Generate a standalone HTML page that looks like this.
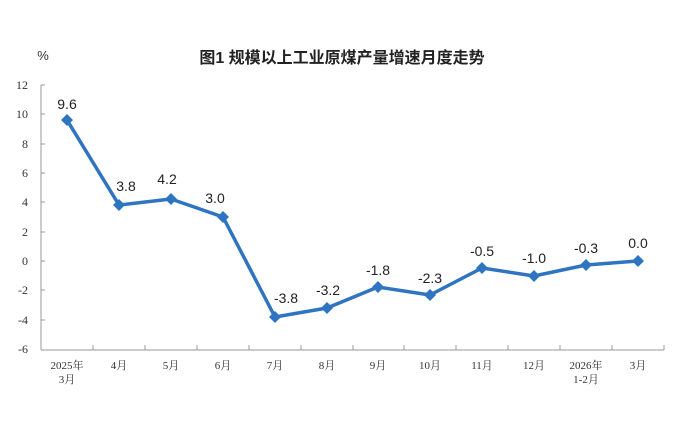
<!DOCTYPE html>
<html><head><meta charset="utf-8"><style>
body{margin:0;background:#fff;}
svg text{font-family:"Liberation Serif","Noto Serif CJK SC",serif;}
svg text.s{font-family:"Liberation Sans","Noto Sans CJK SC",sans-serif;}
</style></head><body>
<svg width="684" height="440" viewBox="0 0 684 440" xmlns="http://www.w3.org/2000/svg">
<rect width="684" height="440" fill="#fff"/>
<text class="s" x="342" y="63" text-anchor="middle" font-size="16" font-weight="bold" fill="#222">图1  规模以上工业原煤产量增速月度走势</text>
<text class="s" x="43" y="60" text-anchor="middle" font-size="13" fill="#333">%</text>
<g stroke="#999" stroke-width="1" fill="none">
<line x1="41" y1="85" x2="41" y2="350"/>
<line x1="41" y1="350" x2="664" y2="350"/>
<line x1="41" y1="85" x2="45" y2="85"/><line x1="41" y1="114" x2="45" y2="114"/><line x1="41" y1="144" x2="45" y2="144"/><line x1="41" y1="173" x2="45" y2="173"/><line x1="41" y1="202" x2="45" y2="202"/><line x1="41" y1="232" x2="45" y2="232"/><line x1="41" y1="261" x2="45" y2="261"/><line x1="41" y1="290" x2="45" y2="290"/><line x1="41" y1="320" x2="45" y2="320"/>
<line x1="93" y1="350" x2="93" y2="345"/><line x1="145" y1="350" x2="145" y2="345"/><line x1="197" y1="350" x2="197" y2="345"/><line x1="249" y1="350" x2="249" y2="345"/><line x1="301" y1="350" x2="301" y2="345"/><line x1="353" y1="350" x2="353" y2="345"/><line x1="404" y1="350" x2="404" y2="345"/><line x1="456" y1="350" x2="456" y2="345"/><line x1="508" y1="350" x2="508" y2="345"/><line x1="560" y1="350" x2="560" y2="345"/><line x1="612" y1="350" x2="612" y2="345"/><line x1="664" y1="350" x2="664" y2="345"/>
</g>
<g font-size="12" fill="#333" text-anchor="end">
<text x="28" y="89">12</text><text x="28" y="118">10</text><text x="28" y="148">8</text><text x="28" y="177">6</text><text x="28" y="206">4</text><text x="28" y="236">2</text><text x="28" y="265">0</text><text x="28" y="294">-2</text><text x="28" y="324">-4</text><text x="28" y="353">-6</text>
</g>
<g font-size="11" fill="#333" text-anchor="middle">
<text x="67" y="369">2025年</text><text x="67" y="383">3月</text>
<text x="119" y="369">4月</text><text x="171" y="369">5月</text><text x="223" y="369">6月</text><text x="275" y="369">7月</text><text x="327" y="369">8月</text><text x="378" y="369">9月</text><text x="430" y="369">10月</text><text x="482" y="369">11月</text><text x="534" y="369">12月</text>
<text x="586" y="369">2026年</text><text x="586" y="383">1-2月</text><text x="638" y="369">3月</text>
</g>
<polyline fill="none" stroke="#2e74c0" stroke-width="3.5" stroke-linejoin="round" points="67,120 119,205 171,199 223,217 275,317 327,308 378,287 430,295 482,268 534,276 586,265 638,261"/>
<g fill="#2e74c0">
<path d="M67,114l6,6l-6,6l-6,-6z"/><path d="M119,199l6,6l-6,6l-6,-6z"/><path d="M171,193l6,6l-6,6l-6,-6z"/><path d="M223,211l6,6l-6,6l-6,-6z"/><path d="M275,311l6,6l-6,6l-6,-6z"/><path d="M327,302l6,6l-6,6l-6,-6z"/><path d="M378,281l6,6l-6,6l-6,-6z"/><path d="M430,289l6,6l-6,6l-6,-6z"/><path d="M482,262l6,6l-6,6l-6,-6z"/><path d="M534,270l6,6l-6,6l-6,-6z"/><path d="M586,259l6,6l-6,6l-6,-6z"/><path d="M638,255l6,6l-6,6l-6,-6z"/>
</g>
<g font-size="14" fill="#222" text-anchor="middle">
<text class="s" x="67" y="109">9.6</text><text class="s" x="126" y="191">3.8</text><text class="s" x="167" y="184">4.2</text><text class="s" x="215" y="203">3.0</text><text class="s" x="286" y="303">-3.8</text><text class="s" x="328" y="295">-3.2</text><text class="s" x="378" y="275">-1.8</text><text class="s" x="430" y="283">-2.3</text><text class="s" x="482" y="256">-0.5</text><text class="s" x="534" y="263">-1.0</text><text class="s" x="586" y="253">-0.3</text><text class="s" x="638" y="248">0.0</text>
</g>
</svg>
</body></html>
